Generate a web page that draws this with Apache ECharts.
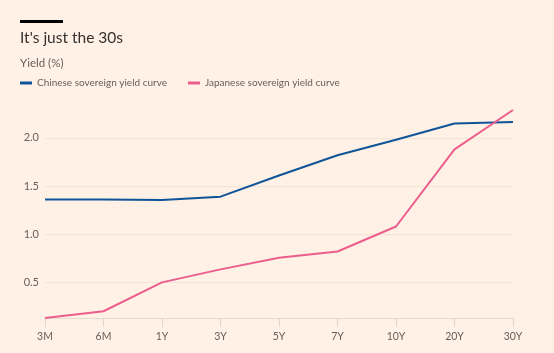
<!DOCTYPE html>
<html>
<head>
<meta charset="utf-8">
<script src="https://cdn.jsdelivr.net/npm/echarts@6/dist/echarts.min.js"></script>
<style>
html,body{margin:0;padding:0;background:#fff1e5;}
#c{width:554px;height:353px;}
</style>
</head>
<body>
<div id="c"></div>
<script>
var categories = ['3M','6M','1Y','3Y','5Y','7Y','10Y','20Y','30Y'];
var chinese = [1.36, 1.36, 1.355, 1.39, 1.61, 1.82, 1.98, 2.15, 2.165];
var japanese = [0.13, 0.20, 0.50, 0.635, 0.755, 0.82, 1.08, 1.88, 2.29];
var yTicks = [0.5, 1.0, 1.5, 2.0];

var chart = echarts.init(document.getElementById('c'), null, {renderer:'canvas'});
var grey = '#66605c';
chart.setOption({
  backgroundColor: '#fff1e5',
  animation: false,
  textStyle: {fontFamily: 'Lato'},
  graphic: [
    {type:'rect', shape:{x:20, y:20, width:43, height:3}, style:{fill:'#000000'}},
    {type:'text', left:20, top:30, style:{text:"It's just the 30s", fontSize:15.5, fontFamily:'Lato', fill:'#33302e'}},
    {type:'text', left:20, top:57, style:{text:'Yield (%)', fontSize:11.5, fontFamily:'Lato', fill:grey}}
  ],
  legend: {
    left: 20, top: 78, padding: 0,
    icon: 'rect', itemWidth: 12, itemHeight: 3, itemGap: 21,
    textStyle: {color: grey, fontSize: 10, fontFamily: 'Lato'},
    data: ['Chinese sovereign yield curve', 'Japanese sovereign yield curve']
  },
  grid: {left: 45, right: 41, top: 109, bottom: 35, containLabel: false},
  xAxis: {
    type: 'category', data: categories, boundaryGap: false,
    axisLine: {lineStyle: {color: '#e9dbcf', width: 1}},
    axisTick: {show: true, length: 9, lineStyle: {color: '#e3d5c9'}},
    axisLabel: {color: grey, fontSize: 10.5, margin: 13},
    splitLine: {show: false}
  },
  yAxis: {
    type: 'value', min: 0.13, max: 2.3,
    axisLine: {show: false},
    axisTick: {show: false, customValues: yTicks},
    axisLabel: {color: grey, fontSize: 11, margin: 6, customValues: yTicks, formatter: function(v){return v.toFixed(1);}},
    splitLine: {show: true, customValues: yTicks, lineStyle: {color: '#f3e4d8', width: 1}}
  },
  series: [
    {name: 'Chinese sovereign yield curve', type: 'line', data: chinese, symbol: 'none',
     lineStyle: {color: '#0f5499', width: 2}, itemStyle: {color: '#0f5499'}},
    {name: 'Japanese sovereign yield curve', type: 'line', data: japanese, symbol: 'none',
     lineStyle: {color: '#eb5e8d', width: 2}, itemStyle: {color: '#eb5e8d'}}
  ]
});
</script>
</body>
</html>
